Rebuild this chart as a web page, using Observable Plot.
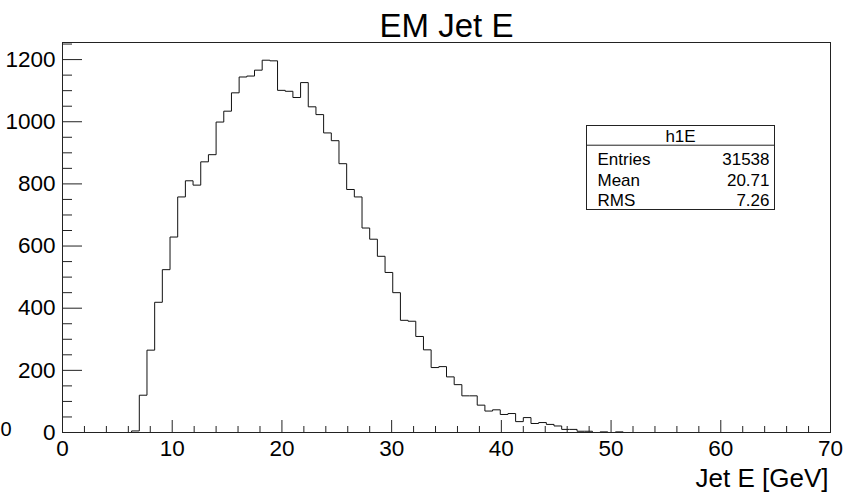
<!DOCTYPE html>
<html>
<head>
<meta charset="utf-8">
<script src="https://cdn.jsdelivr.net/npm/d3@7"></script>
<script src="https://cdn.jsdelivr.net/npm/@observablehq/plot@0.6"></script>
<style>
  html, body { margin: 0; padding: 0; background: #fff; }
  svg { font-family: "Liberation Sans", Arial, sans-serif; }
</style>
</head>
<body>
<div id="chart"></div>
<script>
// ---- data ----
const title = "EM Jet E";
const xLabel = "Jet E [GeV]";
const histName = "h1E";
const xMin = 0;
const binWidth = 0.7;
// 100 bins of 0.7 GeV from 0 to 70
const counts = [
  0, 0, 0, 0, 0, 0, 0, 0, 0, 5,
  120, 265, 419, 524, 629, 758, 810, 796, 871, 894,
  999, 1034, 1093, 1144, 1147, 1166, 1198, 1196, 1101, 1098,
  1078, 1126, 1048, 1023, 964, 939, 865, 782, 758, 658,
  622, 567, 515, 450, 361, 358, 309, 266, 209, 212,
  179, 154, 118, 118, 88, 69, 73, 58, 61, 35,
  48, 29, 32, 26, 21, 10, 10, 4, 4, 0,
  2, 0, 2, 0, 0, 0, 0, 0, 0, 0,
  0, 0, 0, 0, 0, 0, 0, 0, 0, 0,
  0, 0, 0, 0, 0, 0, 0, 0, 0, 0
];
const xMajorTicks = [0, 10, 20, 30, 40, 50, 60, 70];
const xMinorTicks = [2, 4, 6, 8, 12, 14, 16, 18, 22, 24, 26, 28, 32, 34, 36, 38, 42, 44, 46, 48, 52, 54, 56, 58, 62, 64, 66, 68];
const yMajorTicks = [0, 200, 400, 600, 800, 1000, 1200];
const yMinorTicks = [50, 100, 150, 250, 300, 350, 450, 500, 550, 650, 700, 750, 850, 900, 950, 1050, 1100, 1150, 1250];
const statsLabels = ["Entries", "Mean", "RMS"];
const statsValues = ["31538", "20.71", "7.26"];

// ---- build step-line points (lower bin edges + final upper edge) ----
const steps = counts.map((c, i) => ({x: xMin + i * binWidth, y: c}));
steps.push({x: xMin + counts.length * binWidth, y: counts[counts.length - 1]});

const W = 846, H = 497;
const mL = 62, mR = 16, mT = 42, mB = 65;
const fw = W - mL - mR, fh = H - mT - mB;
const font = "Liberation Sans, Arial, sans-serif";

const rowDy = [116.6, 138, 157.6];
const statRows = statsLabels.map((l, i) => ({label: l, value: statsValues[i], dy: rowDy[i]}));

const statTexts = statRows.flatMap(r => [
  Plot.text([r], {frameAnchor: "top-right", text: "label", dx: -233, dy: r.dy, textAnchor: "start", lineAnchor: "middle", fontSize: 17, fill: "#000"}),
  Plot.text([r], {frameAnchor: "top-right", text: "value", dx: -61, dy: r.dy, textAnchor: "end", lineAnchor: "middle", fontSize: 17, fill: "#000"})
]);

const chart = Plot.plot({
  width: W,
  height: H,
  marginLeft: mL,
  marginRight: mR,
  marginTop: mT,
  marginBottom: mB,
  style: {fontFamily: font, background: "#fff", color: "#000"},
  x: {domain: [0, 70]},
  y: {domain: [0, 1255]},
  marks: [
    // histogram outline
    Plot.line(steps, {x: "x", y: "y", curve: "step-after", stroke: "#111", strokeWidth: 1}),
    // ticks (inward)
    Plot.ruleX(xMajorTicks, {x: d => d, insetTop: fh - 12, stroke: "#222"}),
    Plot.ruleX(xMinorTicks, {x: d => d, insetTop: fh - 6, stroke: "#222"}),
    Plot.ruleY(yMajorTicks, {y: d => d, insetRight: fw - 20, stroke: "#222"}),
    Plot.ruleY(yMinorTicks, {y: d => d, insetRight: fw - 10, stroke: "#222"}),
    // frame
    Plot.frame({stroke: "#222", strokeWidth: 1}),
    // tick labels
    Plot.axisX({ticks: xMajorTicks, tickSize: 0, tickPadding: 8, fontSize: 22.5, label: null, tickFormat: d => String(d)}),
    Plot.axisY({ticks: yMajorTicks, tickSize: 0, tickPadding: 7, fontSize: 22.5, label: null, tickFormat: d => String(d)}),
    // stray label at far left edge
    Plot.text(["0"], {frameAnchor: "bottom-left", text: d => d, dx: -62, dy: -3, textAnchor: "start", lineAnchor: "middle", fontSize: 20, fill: "#000"}),
    // title
    Plot.text([title], {frameAnchor: "top", text: d => d, dy: -16.5, lineAnchor: "middle", fontSize: 33, fill: "#000"}),
    // x axis label
    Plot.text([xLabel], {frameAnchor: "bottom-right", text: d => d, dx: -2, dy: 46.5, textAnchor: "end", lineAnchor: "middle", fontSize: 26, fill: "#000"}),
    // stats box
    Plot.frame({fill: "#fff", stroke: "#222", insetLeft: 524, insetRight: 56, insetTop: 83, insetBottom: 223}),
    Plot.frame({stroke: "#222", insetLeft: 524, insetRight: 56, insetTop: 83, insetBottom: 287.3}),
    Plot.text([histName], {frameAnchor: "top-right", text: d => d, dx: -150, dy: 94.3, textAnchor: "middle", lineAnchor: "middle", fontSize: 17, fill: "#000"}),
    ...statTexts
  ]
});
document.getElementById("chart").appendChild(chart);
</script>
</body>
</html>
